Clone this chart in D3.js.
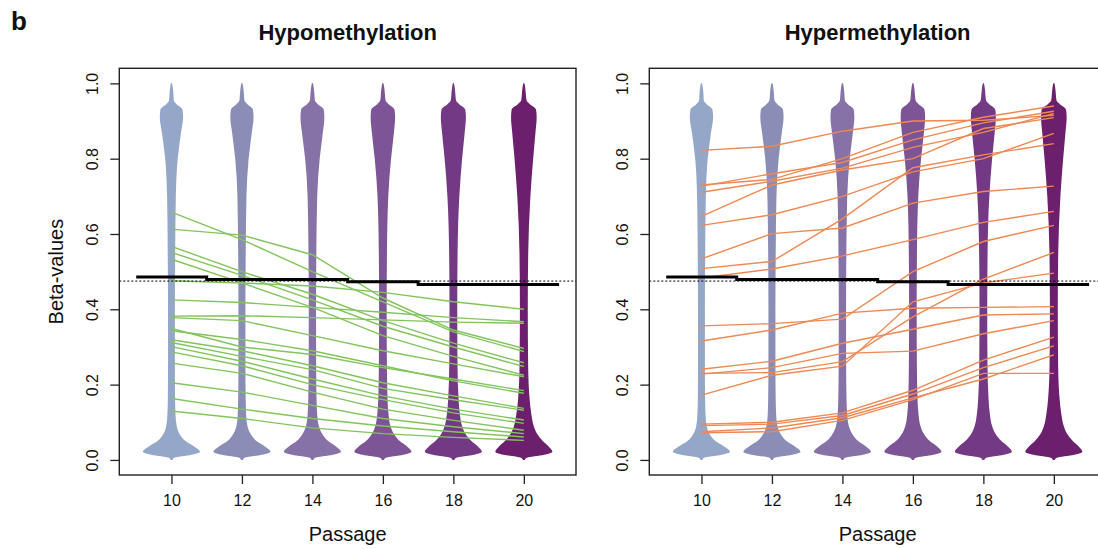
<!DOCTYPE html>
<html>
<head>
<meta charset="utf-8">
<script src="https://cdn.jsdelivr.net/npm/d3@7"></script>
<style>
  body { margin: 0; background: #fff; }
  text { font-family: "Liberation Sans", Arial, Helvetica, sans-serif; fill: #111; }
</style>
</head>
<body>
<svg id="chart" width="1098" height="549"></svg>
<script>
// passages shown on the x axis
const passages = [10, 12, 14, 16, 18, 20];
const yTicks = [0, 0.2, 0.4, 0.6, 0.8, 1.0];
const panelTitles = ['Hypomethylation', 'Hypermethylation'];

// beta grid used for the violin density profiles
const betaGrid = [0, 0.006, 0.014, 0.022, 0.035, 0.05, 0.07, 0.09, 0.12, 0.16, 0.25, 0.4,
                  0.55, 0.7, 0.8, 0.87, 0.91, 0.93, 0.945, 0.955, 0.97, 0.99, 1.0];
// relative density at each grid point, one list per passage
const density10 = [0.3, 0.9, 6.9, 9.8, 7.9, 4.8, 2.7, 1.8, 1.4, 1.25, 1.18, 1.18, 1.28, 1.5, 2.15, 3.3, 4.0, 3.8, 1.7, 0.8, 0.7, 0.45, 0.2];
const density12 = [0.3, 0.9, 6.9, 9.8, 8.0, 5.0, 2.9, 1.9, 1.45, 1.3, 1.2, 1.2, 1.3, 1.55, 2.3, 3.4, 4.0, 3.8, 1.8, 0.85, 0.7, 0.45, 0.2];
const density14 = [0.3, 0.9, 7.0, 9.8, 8.2, 5.4, 3.3, 2.2, 1.65, 1.42, 1.28, 1.25, 1.35, 1.65, 2.5, 3.6, 4.1, 3.9, 1.8, 0.85, 0.7, 0.45, 0.2];
const density16 = [0.3, 1.0, 7.0, 9.8, 8.4, 5.8, 3.7, 2.6, 1.95, 1.6, 1.38, 1.3, 1.4, 1.85, 2.8, 3.8, 4.2, 4.0, 1.9, 0.9, 0.7, 0.45, 0.2];
const density18 = [0.3, 1.0, 7.0, 9.8, 8.5, 6.2, 4.1, 3.0, 2.25, 1.8, 1.42, 1.33, 1.45, 2.05, 3.0, 3.9, 4.3, 4.1, 1.95, 0.9, 0.7, 0.45, 0.2];
const density20 = [0.3, 1.0, 7.0, 9.8, 8.6, 6.5, 4.5, 3.4, 2.6, 2.0, 1.48, 1.35, 1.5, 2.25, 3.2, 4.0, 4.4, 4.2, 2.0, 0.9, 0.7, 0.45, 0.2];
const densities = [density10, density12, density14, density16, density18, density20];
const violinColors = ['#95a7c9', '#8a8db6', '#8672a6', '#7d5596', '#733984', '#6c1f6c'];

// median beta per passage and overall median
const medians = [0.486, 0.479, 0.479, 0.473, 0.466, 0.466];
const overallMedian = 0.475;

// CpG trajectories, values at passages 10..20
const hypoLines = [
  [0.476, 0.470, 0.462, 0.445, 0.420, 0.400],
  [0.425, 0.418, 0.405, 0.392, 0.378, 0.367],
  [0.382, 0.383, 0.378, 0.372, 0.366, 0.363],
  [0.613, 0.597, 0.545, 0.430, 0.345, 0.296],
  [0.658, 0.585, 0.500, 0.420, 0.340, 0.288],
  [0.567, 0.500, 0.440, 0.370, 0.310, 0.258],
  [0.551, 0.490, 0.425, 0.355, 0.300, 0.248],
  [0.533, 0.470, 0.405, 0.330, 0.275, 0.225],
  [0.378, 0.370, 0.330, 0.290, 0.255, 0.221],
  [0.349, 0.300, 0.280, 0.245, 0.215, 0.184],
  [0.343, 0.320, 0.290, 0.250, 0.210, 0.177],
  [0.319, 0.290, 0.250, 0.205, 0.170, 0.137],
  [0.312, 0.275, 0.240, 0.190, 0.160, 0.132],
  [0.301, 0.262, 0.215, 0.170, 0.135, 0.106],
  [0.287, 0.250, 0.200, 0.160, 0.125, 0.097],
  [0.257, 0.230, 0.180, 0.135, 0.105, 0.079],
  [0.205, 0.180, 0.145, 0.110, 0.088, 0.070],
  [0.163, 0.135, 0.110, 0.090, 0.075, 0.061],
  [0.130, 0.110, 0.085, 0.070, 0.060, 0.052]
];
const hyperLines = [
  [0.822, 0.833, 0.873, 0.900, 0.902, 0.915],
  [0.730, 0.745, 0.800, 0.870, 0.910, 0.940],
  [0.727, 0.760, 0.790, 0.850, 0.895, 0.926],
  [0.711, 0.740, 0.775, 0.830, 0.870, 0.920],
  [0.647, 0.730, 0.770, 0.800, 0.880, 0.909],
  [0.623, 0.651, 0.700, 0.765, 0.800, 0.867],
  [0.534, 0.601, 0.616, 0.682, 0.713, 0.727],
  [0.508, 0.527, 0.640, 0.776, 0.810, 0.840],
  [0.483, 0.507, 0.542, 0.585, 0.631, 0.660],
  [0.356, 0.362, 0.374, 0.500, 0.580, 0.623],
  [0.316, 0.345, 0.390, 0.403, 0.405, 0.407],
  [0.241, 0.262, 0.310, 0.347, 0.385, 0.388],
  [0.230, 0.232, 0.261, 0.380, 0.480, 0.551],
  [0.228, 0.245, 0.283, 0.289, 0.335, 0.370],
  [0.172, 0.225, 0.249, 0.420, 0.470, 0.496],
  [0.095, 0.100, 0.125, 0.185, 0.265, 0.326],
  [0.091, 0.095, 0.118, 0.175, 0.245, 0.303],
  [0.075, 0.085, 0.112, 0.165, 0.215, 0.279],
  [0.072, 0.075, 0.105, 0.160, 0.230, 0.230]
];
const panelLines = [hypoLines, hyperLines];
const lineColors = ['#82c45c', '#ef8852'];

const svg = d3.select('#chart');
const panelLeft = [119.3, 649.3];
const panelWidth = 456.7;
const plotTop = 68.3, plotBottom = 475;

svg.append('text')
  .attr('x', 11).attr('y', 30)
  .style('font-size', '26px').style('font-weight', 'bold')
  .text('b');

panelTitles.forEach((title, pi) => {
  const left = panelLeft[pi];
  const x = d3.scaleLinear().domain([8.52, 21.48]).range([left, left + panelWidth]);
  const y = d3.scaleLinear().domain([-0.04, 1.04]).range([plotBottom, plotTop]);
  // density -> half width in passage units
  const w = d3.scaleLinear().domain([0, 9.8]).range([0, 0.81]);

  const g = svg.append('g');

  // violins
  passages.forEach((p, i) => {
    const pts = betaGrid.map((b, k) => ({ b, d: densities[i][k] }));
    const area = d3.area()
      .curve(d3.curveMonotoneY)
      .y(d => y(d.b))
      .x0(d => x(p - w(d.d)))
      .x1(d => x(p + w(d.d)));
    g.append('path')
      .attr('d', area(pts))
      .attr('fill', violinColors[i]);
  });

  // trajectories
  const line = d3.line()
    .x((d, i) => x(passages[i]))
    .y(d => y(d));
  g.append('g')
    .selectAll('path')
    .data(panelLines[pi])
    .join('path')
    .attr('d', line)
    .attr('fill', 'none')
    .attr('stroke', lineColors[pi])
    .attr('stroke-width', 1.4);

  // median steps
  const steps = [];
  passages.forEach((p, i) => {
    steps.push([p - 1, medians[i]]);
    steps.push([p + 1, medians[i]]);
  });
  g.append('path')
    .attr('d', d3.line().x(d => x(d[0])).y(d => y(d[1]))(steps))
    .attr('fill', 'none')
    .attr('stroke', '#000')
    .attr('stroke-width', 3);

  g.append('line')
    .attr('x1', left).attr('x2', left + panelWidth)
    .attr('y1', y(overallMedian)).attr('y2', y(overallMedian))
    .attr('stroke', '#000')
    .attr('stroke-width', 1)
    .attr('stroke-dasharray', '2,2');

  // box
  g.append('rect')
    .attr('x', left).attr('y', plotTop)
    .attr('width', panelWidth).attr('height', plotBottom - plotTop)
    .attr('fill', 'none')
    .attr('stroke', '#222')
    .attr('stroke-width', 1.4);

  // axes
  const xAxis = g.append('g')
    .attr('transform', `translate(0,${plotBottom})`)
    .call(d3.axisBottom(x).tickValues(passages).tickSize(9).tickSizeOuter(0));
  xAxis.select('.domain').remove();
  xAxis.selectAll('line').attr('stroke', '#222').attr('stroke-width', 1.3);
  xAxis.selectAll('text').attr('y', 20).style('font-size', '16px').style('fill', '#111');

  const yAxis = g.append('g')
    .attr('transform', `translate(${left},0)`)
    .call(d3.axisLeft(y).tickValues(yTicks).tickFormat(d3.format('.1f')).tickSize(9).tickSizeOuter(0));
  yAxis.select('.domain').remove();
  yAxis.selectAll('line').attr('stroke', '#222').attr('stroke-width', 1.3);
  yAxis.selectAll('text')
    .attr('transform', 'rotate(-90)')
    .attr('x', 0).attr('y', -27).attr('dy', '0.35em')
    .attr('text-anchor', 'middle')
    .style('font-size', '16px').style('fill', '#111');

  // titles
  g.append('text')
    .attr('x', left + panelWidth / 2).attr('y', 40)
    .attr('text-anchor', 'middle')
    .style('font-size', '22px').style('font-weight', 'bold')
    .text(title);

  g.append('text')
    .attr('x', left + panelWidth / 2).attr('y', 541)
    .attr('text-anchor', 'middle')
    .style('font-size', '20px')
    .text('Passage');
});

svg.append('text')
  .attr('transform', `translate(63,${(plotTop + plotBottom) / 2}) rotate(-90)`)
  .attr('text-anchor', 'middle')
  .style('font-size', '20px')
  .text('Beta-values');
</script>
</body>
</html>
